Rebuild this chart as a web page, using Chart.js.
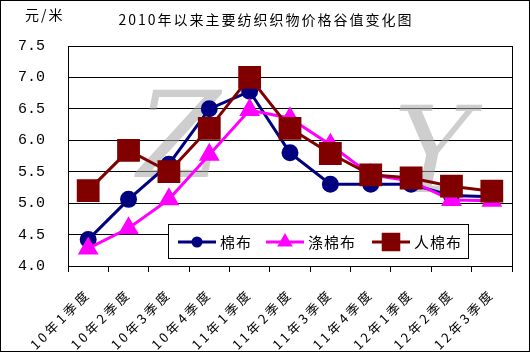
<!DOCTYPE html>
<html>
<head>
<meta charset="utf-8">
<script src="https://cdn.jsdelivr.net/npm/chart.js@4/dist/chart.umd.min.js"></script>
<style>
  html, body { margin: 0; padding: 0; background: #fff; }
  #wrap { width: 530px; height: 352px; position: relative; box-sizing: border-box; border: 1px solid #000; }
  canvas { display: block; }
</style>
</head>
<body>
<div id="wrap"><canvas id="grafik" width="528" height="350"></canvas></div>
<script>
const quarters = ['10年1季度', '10年2季度', '10年3季度', '10年4季度', '11年1季度', '11年2季度',
    '11年3季度', '11年4季度', '12年1季度', '12年2季度', '12年3季度'];
const mianbu = [4.42, 5.06, 5.62, 6.5, 6.78, 5.8, 5.3, 5.3, 5.3, 5.12, 5.1];
const dimianbu = [4.28, 4.6, 5.06, 5.77, 6.48, 6.35, 5.93, 5.45, 5.35, 5.05, 5.04];
const renmianbu = [5.2, 5.84, 5.5, 6.19, 7.0, 6.19, 5.79, 5.45, 5.4, 5.27, 5.19];
const yTicks = [4.0, 4.5, 5.0, 5.5, 6.0, 6.5, 7.0, 7.5];
const title = '2010年以来主要纺织织物价格谷值变化图';
const unit = '元/米';

const cjk = '"Noto Sans CJK SC", sans-serif';

const decorPlugin = {
    id: 'decor',
    beforeDatasetsDraw(chart) {
        const ctx = chart.ctx;
        ctx.save();
        ctx.fillStyle = 'rgba(165,165,165,0.55)';
        ctx.font = 'italic 120px "DejaVu Serif", serif';
        ctx.textAlign = 'center';
        ctx.textBaseline = 'middle';
        ctx.fillText('Z', 178, 145);
        ctx.fillText('Y', 432, 160);
        ctx.restore();
    },
    afterDraw(chart) {
        const ctx = chart.ctx;
        const a = chart.chartArea;
        ctx.save();
        // plot border
        ctx.strokeStyle = '#000';
        ctx.lineWidth = 1;
        ctx.strokeRect(Math.round(a.left) + 0.5, Math.round(a.top) + 0.5,
            Math.round(a.right - a.left), Math.round(a.bottom - a.top));

        // title and unit
        ctx.fillStyle = '#000';
        ctx.font = '14px ' + cjk;
        ctx.letterSpacing = '2px';
        ctx.textBaseline = 'middle';
        ctx.textAlign = 'left';
        const tw = ctx.measureText(title).width - 2;
        ctx.fillText(title, 264 - tw / 2, 19);
        ctx.fillText(unit, 24, 14);

        // legend box
        ctx.letterSpacing = '1px';
        const lx = 167, ly = 223, lw = 300, lh = 34;
        ctx.fillStyle = '#fff';
        ctx.fillRect(lx, ly, lw, lh);
        ctx.strokeRect(lx + 0.5, ly + 0.5, lw, lh);
        const items = [
            { ds: chart.data.datasets[0], x: 177 },
            { ds: chart.data.datasets[1], x: 265 },
            { ds: chart.data.datasets[2], x: 371 }
        ];
        const cy = ly + lh / 2 + 1;
        items.forEach(it => {
            ctx.strokeStyle = it.ds.borderColor;
            ctx.lineWidth = 3;
            ctx.beginPath();
            ctx.moveTo(it.x, cy);
            ctx.lineTo(it.x + 38, cy);
            ctx.stroke();
            ctx.fillStyle = it.ds.borderColor;
            Chart.helpers.drawPoint(ctx, {
                pointStyle: it.ds.pointStyle,
                radius: it.ds.legendRadius,
                borderWidth: 1
            }, it.x + 19, cy);
            ctx.fillStyle = '#000';
            ctx.font = '15px ' + cjk;
            ctx.fillText(it.ds.label, it.x + 42, cy);
        });
        ctx.restore();
    }
};

// wider character spacing on the rotated quarter labels
function spaceLabels(scale) {
    if (scale._spaced) return;
    scale._spaced = true;
    const orig = scale.drawLabels;
    scale.drawLabels = function (area) {
        this.ctx.save();
        this.ctx.letterSpacing = '3px';
        orig.call(this, area);
        this.ctx.restore();
    };
}

const grafik = document.getElementById('grafik').getContext('2d');
new Chart(grafik, {
    type: 'line',
    data: {
        labels: quarters,
        datasets: [{
            label: '棉布',
            data: mianbu,
            borderColor: '#000080',
            backgroundColor: '#000080',
            borderWidth: 3,
            pointStyle: 'circle',
            pointRadius: 7,
            legendRadius: 4,
            order: 2
        }, {
            label: '涤棉布',
            data: dimianbu,
            borderColor: '#FF00FF',
            backgroundColor: '#FF00FF',
            borderWidth: 3,
            pointStyle: 'triangle',
            pointRadius: 9,
            legendRadius: 6,
            order: 1
        }, {
            label: '人棉布',
            data: renmianbu,
            borderColor: '#800000',
            backgroundColor: '#800000',
            borderWidth: 3,
            pointStyle: 'rect',
            pointRadius: 14,
            legendRadius: 11,
            order: 0
        }]
    },
    options: {
        responsive: false,
        animation: false,
        layout: { padding: { top: 45, right: 10, left: 0, bottom: 0 } },
        elements: { line: { tension: 0 }, point: { borderWidth: 1 } },
        plugins: {
            legend: { display: false },
            tooltip: { enabled: false }
        },
        scales: {
            x: {
                offset: true,
                grid: { drawOnChartArea: false, offset: true, tickLength: 6, color: '#000' },
                border: { color: '#000' },
                ticks: {
                    maxRotation: 45,
                    minRotation: 45,
                    autoSkip: false,
                    padding: 14,
                    color: '#000',
                    font: { family: cjk, size: 13 }
                },
                afterFit(scale) { scale.height = 85; spaceLabels(scale); }
            },
            y: {
                min: 4,
                max: 7.5,
                afterBuildTicks(scale) { scale.ticks = yTicks.map(v => ({ value: v })); },
                grid: { color: '#000', drawTicks: false },
                border: { color: '#000' },
                ticks: {
                    padding: 23,
                    color: '#000',
                    font: { family: '"Liberation Mono", monospace', size: 15 },
                    callback: value => value.toFixed(1)
                },
                afterFit(scale) { scale.width = 67; }
            }
        }
    },
    plugins: [decorPlugin]
});
</script>
</body>
</html>
